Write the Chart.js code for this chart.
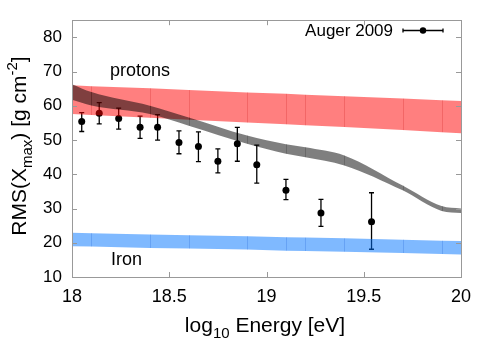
<!DOCTYPE html>
<html>
<head>
<meta charset="utf-8">
<script src="https://cdn.jsdelivr.net/npm/chart.js@4.4.1/dist/chart.umd.min.js"></script>
<style>
  html, body { margin: 0; padding: 0; background: #fff; }
  #wrap { width: 500px; height: 361px; }
</style>
</head>
<body>
<div id="wrap"><canvas id="chart"></canvas></div>
<script>
// Auger 2009 data
const augerE = [18.05, 18.14, 18.24, 18.35, 18.44, 18.55, 18.65, 18.75, 18.85, 18.95, 19.10, 19.28, 19.54];
const augerRms = [55.4, 57.8, 56.3, 53.7, 53.7, 49.3, 48.1, 43.8, 48.9, 42.8, 35.3, 28.7, 26.1];
const augerLo = [52.5, 54.7, 53.2, 50.5, 50.0, 46.0, 43.7, 40.4, 43.8, 37.4, 32.6, 24.8, 18.1];
const augerHi = [58.0, 60.9, 59.3, 57.0, 57.4, 52.7, 52.4, 47.4, 53.7, 48.5, 38.5, 32.7, 34.6];

// model bands
const bandE = [18, 18.1, 18.4, 18.6, 18.9, 19.1, 19.2, 19.4, 19.7, 19.9, 20];
const protonHi = [66.0, 65.7, 65.1, 64.6, 63.9, 63.5, 63.2, 62.8, 62.1, 61.6, 61.4];
const protonLo = [57.6, 57.3, 56.5, 55.9, 55.1, 54.6, 54.3, 53.8, 52.9, 52.3, 52.0];
const ironHi = [22.9, 22.8, 22.4, 22.2, 21.9, 21.6, 21.5, 21.3, 20.9, 20.6, 20.5];
const ironLo = [19.0, 18.9, 18.5, 18.3, 18.0, 17.7, 17.6, 17.4, 17.0, 16.7, 16.6];
const mixHi = [66.3, 64.0, 60.0, 56.6, 51.3, 48.8, 47.9, 45.5, 36.7, 30.7, 30.0];
const mixLo = [61.8, 60.1, 57.6, 54.2, 48.9, 46.0, 45.0, 42.6, 35.3, 29.3, 28.7];

const xTicks = [18, 18.5, 19, 19.5, 20];
const yTicks = [10, 20, 30, 40, 50, 60, 70, 80];

const FONT = '"Liberation Sans", Arial, sans-serif';

function pts(xs, ys) {
    return xs.map((x, i) => ({ x: x, y: ys[i] }));
}

function edge(ys, order, smooth) {
    return { data: pts(bandE, ys), borderWidth: 0, pointRadius: 0, fill: false, order: order,
        cubicInterpolationMode: smooth ? 'monotone' : 'default' };
}

function band(ys, color, order, smooth) {
    return { data: pts(bandE, ys), borderWidth: 0, pointRadius: 0, fill: '-1', backgroundColor: color, order: order,
        cubicInterpolationMode: smooth ? 'monotone' : 'default' };
}

// dataset index -> colour of the thin lines between band segments
const segLines = { 2: 'rgba(190,0,0,0.2)', 4: 'rgba(0,70,200,0.2)', 6: 'rgba(0,0,0,0.18)' };

const extras = {
    id: 'extras',
    afterDatasetDraw(chart, args) {
        const ctx = chart.ctx;
        const x = chart.scales.x, y = chart.scales.y;
        const a = chart.chartArea;
        ctx.save();
        ctx.beginPath();
        ctx.rect(a.left, a.top, a.right - a.left, a.bottom - a.top);
        ctx.clip();
        if (args.index === 0) {
            ctx.strokeStyle = '#000';
            ctx.lineWidth = 1.3;
            augerE.forEach((e, i) => {
                const px = x.getPixelForValue(e);
                const y1 = y.getPixelForValue(augerLo[i]);
                const y2 = y.getPixelForValue(augerHi[i]);
                ctx.beginPath();
                ctx.moveTo(px, y1); ctx.lineTo(px, y2);
                ctx.moveTo(px - 2.5, y1); ctx.lineTo(px + 2.5, y1);
                ctx.moveTo(px - 2.5, y2); ctx.lineTo(px + 2.5, y2);
                ctx.stroke();
            });
        }
        if (segLines[args.index]) {
            const hi = chart.data.datasets[args.index - 1].data;
            const lo = chart.data.datasets[args.index].data;
            ctx.strokeStyle = segLines[args.index];
            ctx.lineWidth = 1;
            for (let i = 1; i < lo.length - 1; i++) {
                const px = Math.round(x.getPixelForValue(lo[i].x)) + 0.5;
                ctx.beginPath();
                ctx.moveTo(px, y.getPixelForValue(hi[i].y));
                ctx.lineTo(px, y.getPixelForValue(lo[i].y));
                ctx.stroke();
            }
        }
        ctx.restore();
    },
    afterDraw(chart) {
        const ctx = chart.ctx;
        const a = chart.chartArea;
        const x = chart.scales.x, y = chart.scales.y;
        ctx.save();
        // frame and inward ticks
        ctx.strokeStyle = '#999';
        ctx.lineWidth = 1;
        ctx.strokeRect(Math.round(a.left) + 0.5, Math.round(a.top) + 0.5,
            Math.round(a.right - a.left), Math.round(a.bottom - a.top));
        ctx.beginPath();
        xTicks.forEach(v => {
            const px = Math.round(x.getPixelForValue(v)) + 0.5;
            ctx.moveTo(px, a.bottom); ctx.lineTo(px, a.bottom - 5);
            ctx.moveTo(px, a.top); ctx.lineTo(px, a.top + 5);
        });
        yTicks.forEach(v => {
            const py = Math.round(y.getPixelForValue(v)) + 0.5;
            ctx.moveTo(a.left, py); ctx.lineTo(a.left + 5, py);
            ctx.moveTo(a.right, py); ctx.lineTo(a.right - 5, py);
        });
        ctx.stroke();

        ctx.fillStyle = '#000';
        ctx.textBaseline = 'alphabetic';

        // x title: log10 Energy [eV]
        const xParts = [['log', 21, 0], ['10', 15, 6], [' Energy [eV]', 21, 0]];
        drawParts(ctx, xParts, 265, 332, 0);
        // y title: RMS(Xmax) [g cm-2]
        const yParts = [['RMS(X', 21, 0], ['max', 15, 6], [') [g cm', 21, 0], ['-2', 15, -9], [']', 21, 0]];
        drawParts(ctx, yParts, 26, 146, -Math.PI / 2);

        // band labels
        ctx.font = '18px ' + FONT;
        ctx.textAlign = 'left';
        ctx.fillText('protons', 110, 76);
        ctx.fillText('Iron', 111, 265);

        // legend
        ctx.font = '17px ' + FONT;
        ctx.textAlign = 'right';
        ctx.fillText('Auger 2009', 393, 36);
        ctx.strokeStyle = '#000';
        ctx.lineWidth = 1.3;
        ctx.beginPath();
        ctx.moveTo(403, 30.5); ctx.lineTo(443, 30.5);
        ctx.moveTo(403, 28.5); ctx.lineTo(403, 32.5);
        ctx.moveTo(443, 28.5); ctx.lineTo(443, 32.5);
        ctx.stroke();
        ctx.beginPath();
        ctx.arc(423, 30.5, 3.2, 0, Math.PI * 2);
        ctx.fill();
        ctx.restore();
    }
};

function drawParts(ctx, parts, cx, cy, rot) {
    let total = 0;
    parts.forEach(p => { ctx.font = p[1] + 'px ' + FONT; total += ctx.measureText(p[0]).width; });
    ctx.save();
    ctx.translate(cx, cy);
    ctx.rotate(rot);
    ctx.textAlign = 'left';
    let pos = -total / 2;
    parts.forEach(p => {
        ctx.font = p[1] + 'px ' + FONT;
        ctx.fillText(p[0], pos, p[2]);
        pos += ctx.measureText(p[0]).width;
    });
    ctx.restore();
}

new Chart(document.getElementById('chart'), {
    type: 'line',
    data: {
        datasets: [
            {
                label: 'Auger 2009',
                data: pts(augerE, augerRms),
                showLine: false,
                pointRadius: 3.5,
                pointBackgroundColor: '#000',
                pointBorderWidth: 0,
                order: 10
            },
            edge(protonHi, 6, false),
            band(protonLo, 'rgba(255,0,0,0.5)', 6, false),
            edge(ironHi, 8, false),
            band(ironLo, 'rgba(0,115,255,0.5)', 8, false),
            edge(mixHi, 4, true),
            band(mixLo, 'rgba(0,0,0,0.5)', 4, true)
        ]
    },
    options: {
        responsive: true,
        maintainAspectRatio: false,
        animation: false,
        layout: { padding: { top: 18, right: 39, left: 0, bottom: 0 } },
        plugins: {
            legend: { display: false },
            tooltip: { enabled: false }
        },
        scales: {
            x: {
                type: 'linear',
                min: 18,
                max: 20,
                grid: { display: false, drawTicks: false },
                border: { display: false },
                ticks: {
                    stepSize: 0.5,
                    padding: 9,
                    color: '#000',
                    font: { family: FONT, size: 18 },
                    callback: v => String(v)
                },
                afterFit: s => { s.height = 84; }
            },
            y: {
                min: 10,
                max: 85,
                grid: { display: false, drawTicks: false },
                border: { display: false },
                ticks: {
                    stepSize: 10,
                    includeBounds: false,
                    padding: 10,
                    color: '#000',
                    font: { family: FONT, size: 17 }
                },
                afterFit: s => { s.width = 72; }
            }
        }
    },
    plugins: [extras]
});
</script>
</body>
</html>
